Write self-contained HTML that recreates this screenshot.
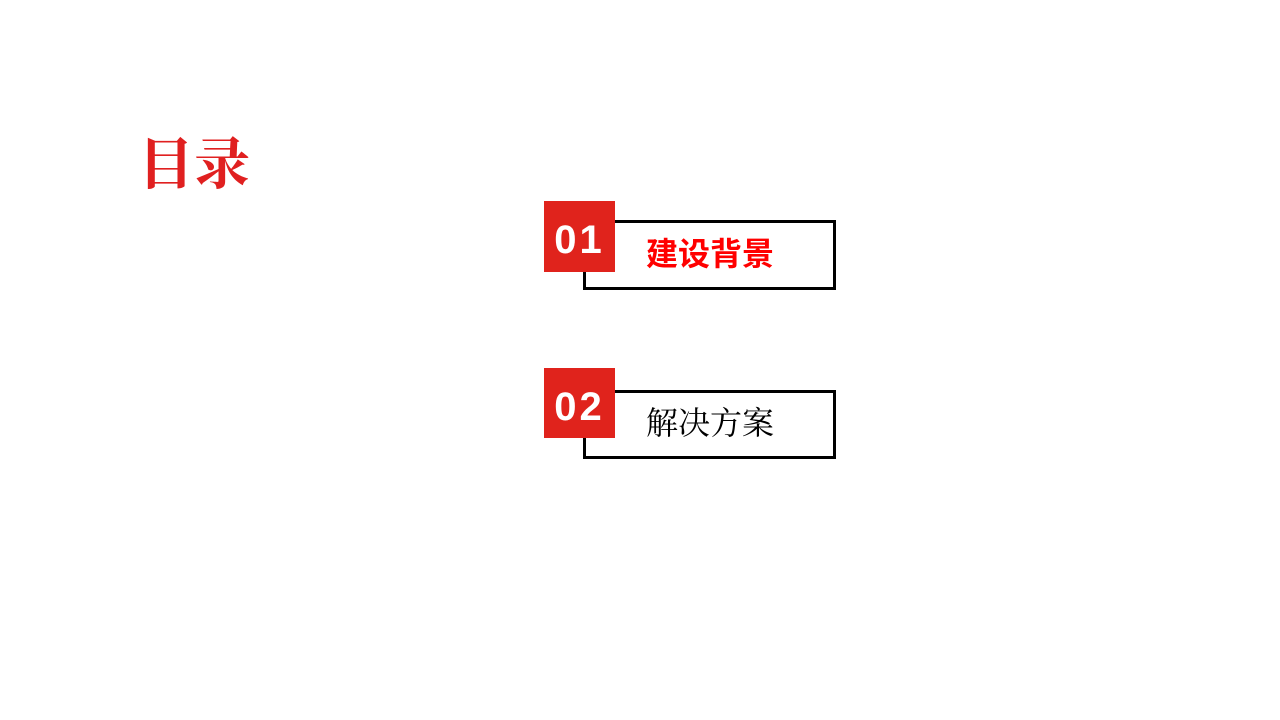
<!DOCTYPE html>
<html><head><meta charset="utf-8"><style>
body{margin:0;width:1280px;height:720px;background:#fff;position:relative;overflow:hidden}
.t{position:absolute;left:138px;top:121px;font:bold 56px "Liberation Serif","Noto Serif CJK SC",serif;color:#e02020;letter-spacing:0}
.box{position:absolute;border:3px solid #000;box-sizing:border-box;background:#fff}
.num{position:absolute;background:#e0231c;color:#fff;font:bold 40px "Liberation Sans","DejaVu Sans",sans-serif;text-align:center;box-sizing:border-box;padding-top:19px;letter-spacing:3px}
.lab{position:absolute;font-size:32px;white-space:nowrap}
</style></head><body>
<div class="t">目录</div>
<div class="box" style="left:583px;top:220px;width:253px;height:70px"></div>
<div class="num" style="left:544px;top:201px;width:71px;height:71px;line-height:1">01</div>
<div class="lab" style="left:646px;top:229px;color:#f00;font-weight:bold;font-family:'Liberation Sans','Noto Sans CJK SC',sans-serif">建设背景</div>
<div class="box" style="left:583px;top:390px;width:253px;height:69px"></div>
<div class="num" style="left:544px;top:368px;width:71px;height:70px;line-height:1">02</div>
<div class="lab" style="left:646px;top:398px;color:#000;font-family:'Liberation Serif','Noto Serif CJK SC',serif">解决方案</div>
</body></html>
